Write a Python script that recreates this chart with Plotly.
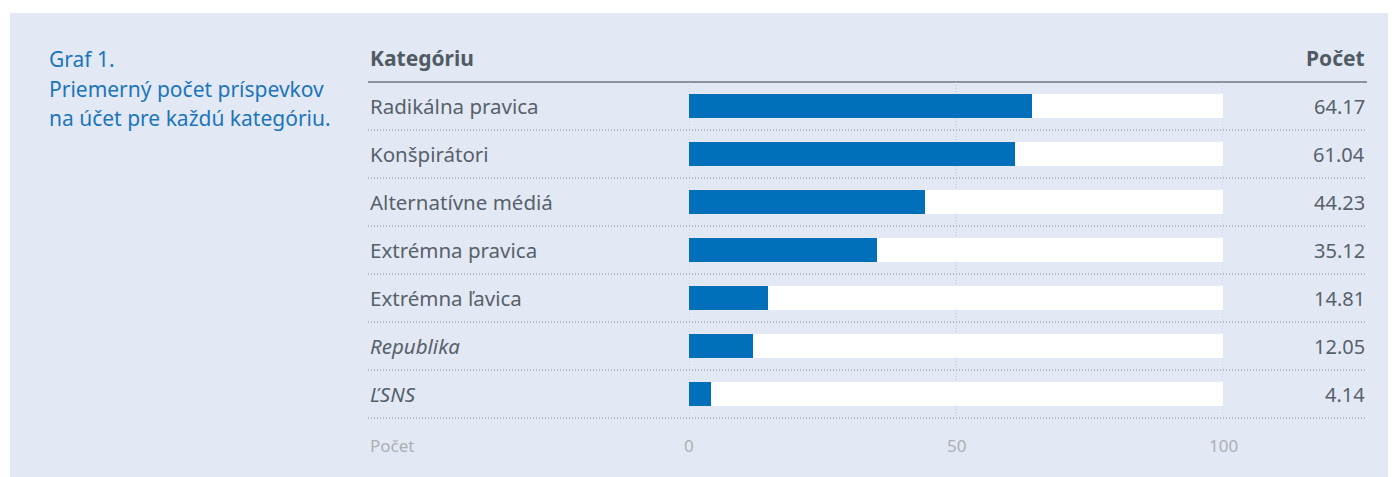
import plotly.graph_objects as go

categories = ["Radikálna pravica", "Konšpirátori", "Alternatívne médiá", "Extrémna pravica",
              "Extrémna ľavica", "<i>Republika</i>", "<i>ĽSNS</i>"]
values = [64.17, 61.04, 44.23, 35.12, 14.81, 12.05, 4.14]
value_labels = ["64.17", "61.04", "44.23", "35.12", "14.81", "12.05", "4.14"]
max_value = 100
tick_vals = [0, 50, 100]
tick_text = ["0", "50", "100"]
title_lines = ["Graf 1.", "Priemerný počet príspevkov", "na účet pre každú kategóriu."]
header_left = "Kategóriu"
header_right = "Počet"
axis_name = "Počet"

W, H = 1396, 477
OFF = 8  # page body margin
FONT = "Noto Sans"
BG = "#E3E9F4"
BLUE = "#0070BA"
TXT = "#56616A"
HDR = "#505B63"
LIGHT = "#ABAFB3"
LINE = "#8A939B"

def px(x):
    return (x - OFF) / W

def py(y):
    return 1 - (y - OFF) / H

ROW0 = 106 - OFF  # pixel center of first row (figure coords)
ROWH = 48

n = len(categories)
ypos = list(range(n))

fig = go.Figure()
fig.add_trace(go.Bar(y=ypos, x=[max_value] * n, orientation="h", marker=dict(color="white", line=dict(width=0)),
                     width=0.48, hoverinfo="skip", showlegend=False))
fig.add_trace(go.Bar(y=ypos, x=values, orientation="h", marker=dict(color=BLUE, line=dict(width=0)),
                     width=0.48, showlegend=False))

shapes = []
shapes.append(dict(type="rect", xref="paper", yref="paper", x0=px(10), x1=1, y0=0, y1=py(13),
                   fillcolor=BG, line=dict(width=0), layer="below"))
for t in tick_vals:
    shapes.append(dict(type="line", xref="x", yref="y", x0=t, x1=t, y0=-0.5, y1=n - 0.5,
                       line=dict(color="#B9BFC6", width=1, dash="1px,2px"), layer="below"))
shapes.append(dict(type="line", xref="paper", yref="y", x0=px(368), x1=px(1367), y0=-0.5, y1=-0.5,
                   line=dict(color=LINE, width=2), layer="below"))
for i in range(n):
    shapes.append(dict(type="line", xref="paper", yref="y", x0=px(368), x1=px(1367), y0=i + 0.5, y1=i + 0.5,
                       line=dict(color="#7D878F", width=1, dash="1px,2px"), layer="below"))

ann = []
for i, line in enumerate(title_lines):
    ann.append(dict(text=line, xref="paper", yref="paper", x=px(47), y=py(59 + i * 29.5), xanchor="left",
                    yanchor="middle", showarrow=False, font=dict(family=FONT, size=21, color="#1B75BB")))
ann.append(dict(text="<b>" + header_left + "</b>", xref="paper", yref="y", x=px(368), y=-1.0, xanchor="left",
                yanchor="middle", showarrow=False, font=dict(family=FONT, size=21, color=HDR)))
ann.append(dict(text="<b>" + header_right + "</b>", xref="paper", yref="y", x=px(1367), y=-1.0, xanchor="right",
                yanchor="middle", showarrow=False, font=dict(family=FONT, size=21, color=HDR)))
for i in range(n):
    ann.append(dict(text=categories[i], xref="paper", yref="y", x=px(368), y=i, xanchor="left",
                    yanchor="middle", showarrow=False, font=dict(family=FONT, size=20.5, color=TXT)))
    ann.append(dict(text=value_labels[i], xref="paper", yref="y", x=px(1367), y=i, xanchor="right",
                    yanchor="middle", showarrow=False, font=dict(family=FONT, size=20, color=TXT)))
ann.append(dict(text=axis_name, xref="paper", yref="y", x=px(368), y=7.08, xanchor="left",
                yanchor="middle", showarrow=False, font=dict(family=FONT, size=17, color=LIGHT)))
for t, s in zip(tick_vals, tick_text):
    ann.append(dict(text=s, xref="x", yref="y", x=t, y=7.08, xanchor="center",
                    yanchor="middle", showarrow=False, font=dict(family=FONT, size=17, color=LIGHT)))

fig.update_layout(
    width=W, height=H, margin=dict(l=0, r=0, t=0, b=0),
    paper_bgcolor="white", plot_bgcolor="rgba(0,0,0,0)",
    barmode="overlay", bargap=0,
    xaxis=dict(domain=[px(689), px(1223)], range=[0, max_value], showgrid=False, zeroline=False,
               showticklabels=False, showline=False, ticks="", fixedrange=True),
    yaxis=dict(domain=[0, 1], range=[(H - ROW0) / ROWH, -ROW0 / ROWH], showgrid=False, zeroline=False,
               showticklabels=False, showline=False, ticks="", fixedrange=True),
    shapes=shapes, annotations=ann, showlegend=False,
)
fig.write_html("out.html")
